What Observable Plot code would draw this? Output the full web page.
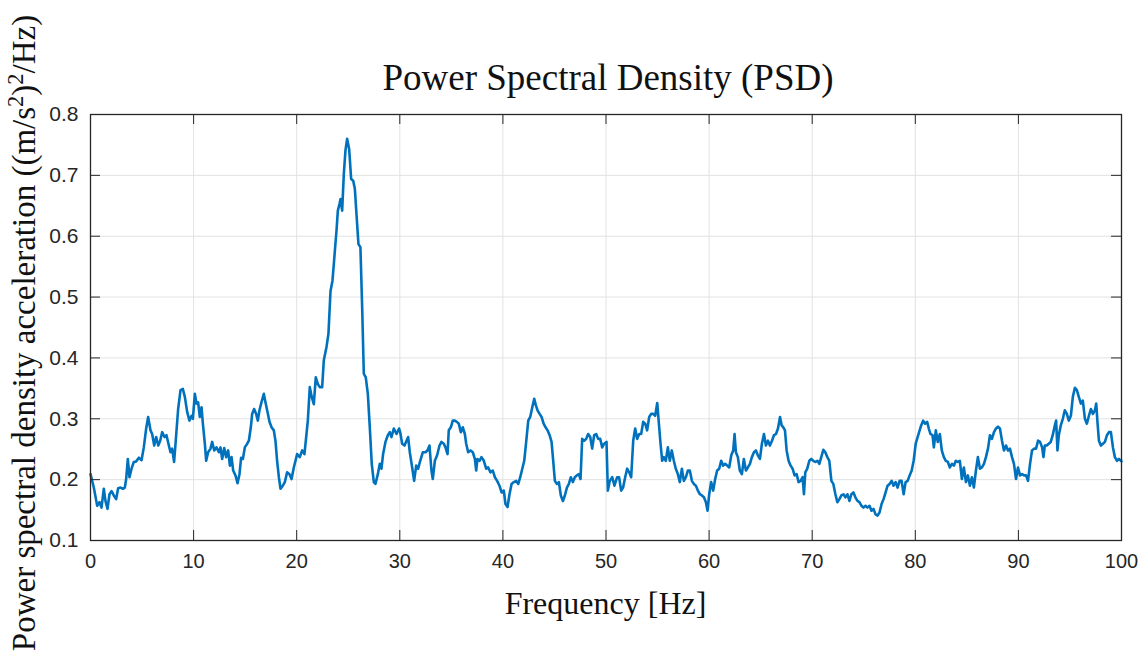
<!DOCTYPE html>
<html><head><meta charset="utf-8">
<script src="https://cdn.jsdelivr.net/npm/d3@7"></script>
<script src="https://cdn.jsdelivr.net/npm/@observablehq/plot@0.6"></script>
<style>
body{margin:0;background:#fff;}
#wrap{position:relative;width:1147px;height:664px;overflow:hidden;}
.lbl{position:absolute;font-family:"Liberation Serif","Times New Roman",serif;color:#111;text-align:center;white-space:nowrap;}
#title{left:90px;width:1036px;top:56px;font-size:37px;line-height:44px;}
#xlabel{left:90px;width:1031px;top:584px;font-size:32px;line-height:38px;}
#ylabel{left:-326px;width:700px;top:314px;font-size:33px;line-height:38px;transform:rotate(-90deg);transform-origin:50% 50%;}
sup{font-size:0.68em;line-height:0;vertical-align:0.55em;}
</style></head><body>
<div id="wrap">
<div id="chart"></div>
<div id="title" class="lbl">Power Spectral Density (PSD)</div>
<div id="xlabel" class="lbl">Frequency [Hz]</div>
<div id="ylabel" class="lbl">Power spectral density acceleration ((m/s<sup>2</sup>)<sup>2</sup>/Hz)</div>
</div>
<script>
const freq = [
0,0.32,0.65,0.87,1.07,1.29,1.45,1.65,1.84,2.04,2.26,2.49,2.68,2.91,3.14,3.33,3.46,3.62,3.78,3.98,
4.2,4.43,4.69,4.95,5.17,5.4,5.59,5.82,5.98,6.18,6.37,6.57,6.76,6.95,7.18,7.37,7.6,7.76,7.92,8.11,
8.31,8.5,8.73,8.96,9.15,9.38,9.6,9.8,9.93,10.12,10.28,10.44,10.6,10.77,10.9,11.09,11.22,11.41,11.64,11.8,
12.0,12.22,12.45,12.61,12.77,12.97,13.16,13.35,13.52,13.68,13.84,14.06,14.26,14.45,14.61,14.78,14.97,15.16,15.36,15.55,
15.68,15.87,16.07,16.23,16.39,16.58,16.81,16.97,17.17,17.36,17.56,17.78,17.94,18.1,18.27,18.43,18.65,18.85,19.07,19.3,
19.5,19.72,20.04,20.3,20.53,20.75,20.95,21.08,21.27,21.47,21.66,21.85,22.05,22.24,22.47,22.63,22.89,23.08,23.28,23.47,
23.6,23.73,23.86,23.99,24.15,24.25,24.41,24.57,24.73,24.89,25.09,25.28,25.48,25.64,25.8,25.99,26.18,26.35,26.51,26.7,
26.9,27.09,27.28,27.48,27.64,27.87,28.06,28.22,28.38,28.61,28.84,29.03,29.19,29.42,29.68,29.93,
30.04,30.23,30.46,30.65,30.81,30.97,31.2,31.39,31.59,31.78,31.98,32.23,32.49,32.68,32.88,33.07,33.2,33.4,33.62,33.85,
34.04,34.27,34.43,34.63,34.75,34.95,35.14,35.34,35.53,35.72,35.92,36.11,36.31,36.44,36.63,36.86,37.08,37.28,37.41,37.53,
37.73,37.92,38.15,38.38,38.57,38.8,39.02,39.22,39.44,39.67,39.87,40.09,40.25,40.45,40.64,40.84,41.06,41.29,41.49,41.68,
41.88,42.07,42.27,42.46,42.65,42.85,43.04,43.2,43.36,43.56,43.75,43.95,44.14,44.33,44.53,44.72,44.88,45.04,45.24,45.43,
45.62,45.82,46.01,46.21,46.4,46.59,46.79,46.98,47.17,47.37,47.53,47.69,47.88,48.08,48.27,48.47,48.66,48.85,49.05,49.24,
49.44,49.63,49.82,
50.05,50.18,50.37,50.6,50.82,51.08,51.27,51.47,51.66,51.86,52.05,52.25,52.44,52.64,52.83,53.02,53.22,53.41,53.61,53.8,
53.99,54.19,54.38,54.58,54.77,54.97,55.13,55.29,55.45,55.61,55.8,56.0,56.19,56.38,56.58,56.77,56.97,57.16,57.36,57.55,
57.75,57.94,58.13,58.33,58.52,58.72,58.91,59.11,59.3,59.5,59.69,59.85,60.01,60.2,60.4,60.59,60.78,60.98,61.17,61.37,
61.56,61.76,61.95,62.15,62.34,62.47,62.6,62.79,62.98,63.18,63.37,63.57,63.76,63.96,64.15,64.35,64.54,64.73,64.93,65.12,
65.32,65.51,65.71,65.9,66.1,66.29,66.49,66.68,66.88,67.04,67.2,67.36,67.52,67.71,67.91,68.1,68.29,68.49,68.68,68.88,
69.07,69.2,69.33,69.52,69.72,69.91,70.11,70.3,70.5,70.69,70.88,71.08,71.27,71.47,71.66,71.86,72.05,72.25,72.44,72.64,
72.83,73.03,73.22,73.42,73.61,73.8,74.0,74.19,74.39,74.58,74.78,74.97,75.17,75.36,75.56,75.75,75.95,76.14,76.34,76.53,
76.73,76.92,77.12,77.31,77.51,77.7,77.89,78.09,78.28,78.48,78.67,78.87,79.06,79.26,79.45,79.65,79.84,80.04,
80.37,80.57,80.76,80.96,81.15,81.31,81.47,81.67,81.8,81.99,82.18,82.38,82.57,82.77,82.96,83.16,83.35,83.55,83.74,83.93,
84.13,84.32,84.52,84.71,84.91,85.1,85.3,85.49,85.68,85.88,86.07,86.27,86.46,86.66,86.85,87.05,87.24,87.43,87.63,87.82,
88.02,88.21,88.41,88.6,88.8,88.99,89.18,89.38,89.57,89.77,89.96,90.16,90.35,90.55,90.74,90.93,91.13,91.32,91.52,91.71,
91.91,92.1,92.3,92.43,92.56,92.75,92.94,93.14,93.33,93.53,93.66,93.79,93.92,94.11,94.31,94.5,94.7,94.89,95.09,95.28,
95.48,95.67,95.86,96.06,96.25,96.45,96.64,96.84,97.03,97.23,97.42,97.55,97.68,97.81,98.0,98.2,98.39,98.59,98.78,98.97,
99.17,99.36,99.56,99.75,100
];
const psd = [
0.209,0.187,0.157,0.163,0.154,0.185,0.165,0.152,0.176,0.181,0.174,0.168,0.186,0.187,0.185,0.187,0.201,0.234,0.204,0.218,
0.229,0.230,0.236,0.232,0.253,0.284,0.303,0.281,0.275,0.256,0.270,0.256,0.264,0.278,0.270,0.273,0.256,0.245,0.251,0.229,
0.273,0.316,0.347,0.349,0.336,0.311,0.297,0.305,0.300,0.341,0.325,0.327,0.303,0.319,0.292,0.259,0.231,0.245,0.251,0.262,
0.248,0.253,0.245,0.253,0.234,0.252,0.237,0.248,0.223,0.237,0.215,0.207,0.194,0.209,0.236,0.234,0.253,0.258,0.264,0.286,
0.308,0.316,0.308,0.297,0.314,0.327,0.341,0.327,0.311,0.295,0.286,0.281,0.264,0.231,0.204,0.185,0.190,0.196,0.212,0.209,
0.201,0.220,0.242,0.237,0.248,0.242,0.275,0.297,0.352,0.335,0.324,0.368,0.357,0.352,0.352,0.396,0.418,0.440,0.510,0.527,
0.554,0.582,0.609,0.642,0.653,0.661,0.642,0.702,0.741,0.760,0.743,0.694,0.691,0.678,0.636,0.587,0.582,0.483,0.374,0.368,
0.341,0.286,0.226,0.196,0.193,0.209,0.226,0.218,0.242,0.262,0.273,0.278,0.270,0.284,0.275,0.284,
0.278,0.259,0.256,0.264,0.270,0.245,0.220,0.198,0.223,0.218,0.231,0.245,0.245,0.248,0.256,0.215,0.201,0.231,0.240,0.256,
0.262,0.259,0.253,0.242,0.281,0.286,0.297,0.297,0.295,0.292,0.278,0.286,0.275,0.259,0.245,0.248,0.245,0.234,0.215,0.234,
0.231,0.237,0.231,0.218,0.220,0.212,0.215,0.204,0.198,0.190,0.179,0.182,0.160,0.155,0.176,0.193,0.196,0.198,0.193,0.204,
0.218,0.231,0.264,0.297,0.303,0.319,0.333,0.322,0.314,0.308,0.303,0.292,0.286,0.281,0.273,0.262,0.231,0.198,0.193,0.196,
0.174,0.165,0.174,0.187,0.193,0.204,0.196,0.204,0.207,0.209,0.201,0.267,0.264,0.267,0.275,0.270,0.251,0.273,0.275,0.267,
0.267,0.253,0.259,
0.262,0.182,0.198,0.204,0.190,0.204,0.204,0.182,0.187,0.204,0.218,0.212,0.204,0.264,0.284,0.267,0.275,0.275,0.295,0.292,
0.281,0.303,0.308,0.308,0.305,0.326,0.292,0.259,0.231,0.237,0.231,0.253,0.231,0.248,0.231,0.218,0.209,0.196,0.218,0.198,
0.204,0.215,0.215,0.198,0.193,0.190,0.182,0.176,0.174,0.171,0.163,0.149,0.176,0.196,0.182,0.201,0.215,0.218,0.231,0.223,
0.226,0.223,0.220,0.240,0.248,0.275,0.245,0.237,0.215,0.209,0.234,0.215,0.220,0.226,0.237,0.245,0.248,0.240,0.234,0.259,
0.275,0.256,0.264,0.256,0.264,0.273,0.275,0.284,0.303,0.289,0.286,0.281,0.248,0.231,0.223,0.218,0.207,0.209,0.196,0.198,
0.204,0.176,0.212,0.218,0.231,0.234,0.231,0.229,0.231,0.226,0.237,0.249,0.245,0.237,0.231,0.198,0.193,0.176,0.163,0.168,
0.174,0.176,0.171,0.176,0.165,0.176,0.179,0.171,0.165,0.163,0.157,0.154,0.157,0.154,0.157,0.149,0.152,0.143,0.141,0.146,
0.160,0.168,0.179,0.190,0.193,0.198,0.190,0.196,0.187,0.198,0.198,0.176,0.196,0.198,0.207,0.215,0.231,0.259,
0.278,0.289,0.297,0.292,0.295,0.284,0.275,0.273,0.253,0.281,0.262,0.275,0.248,0.237,0.231,0.229,0.220,0.226,0.223,0.231,
0.229,0.231,0.201,0.220,0.196,0.207,0.190,0.204,0.187,0.215,0.237,0.218,0.220,0.226,0.237,0.251,0.273,0.267,0.278,0.284,
0.287,0.284,0.264,0.248,0.256,0.248,0.251,0.237,0.226,0.201,0.220,0.207,0.209,0.207,0.207,0.198,0.226,0.248,0.251,0.251,
0.264,0.262,0.253,0.237,0.256,0.256,0.259,0.262,0.273,0.289,0.297,0.248,0.273,0.289,0.300,0.314,0.308,0.297,0.305,0.336,
0.351,0.347,0.336,0.325,0.330,0.300,0.292,0.305,0.316,0.308,0.314,0.325,0.292,0.264,0.256,0.259,0.262,0.273,0.278,0.278,
0.253,0.237,0.231,0.234,0.230
];
const xTicks = [0,10,20,30,40,50,60,70,80,90,100];
const yTicks = [0.1,0.2,0.3,0.4,0.5,0.6,0.7,0.8];

const data = freq.map((f, i) => ({f, p: psd[i]}));
const W = 1147, H = 664, mL = 90, mR = 26, mT = 114, mB = 124;
const innerW = W - mL - mR, innerH = H - mT - mB;
const axisColor = "#262626";

const chart = Plot.plot({
  width: W, height: H,
  marginLeft: mL, marginRight: mR, marginTop: mT, marginBottom: mB,
  style: {fontFamily: "'Liberation Sans', Arial, sans-serif", fontSize: "19px", color: axisColor, background: "#fff"},
  x: {domain: [0, 100], label: null},
  y: {domain: [0.1, 0.8], label: null},
  marks: [
    Plot.gridX(xTicks, {stroke: "#e2e2e2", strokeOpacity: 1, strokeWidth: 1}),
    Plot.gridY(yTicks, {stroke: "#e2e2e2", strokeOpacity: 1, strokeWidth: 1}),
    Plot.line(data, {x: "f", y: "p", stroke: "#0072BD", strokeWidth: 2.6, strokeLinejoin: "round"}),
    Plot.tickX(xTicks, {x: d => d, insetTop: innerH - 10, stroke: axisColor}),
    Plot.tickX(xTicks, {x: d => d, insetBottom: innerH - 10, stroke: axisColor}),
    Plot.tickY(yTicks, {y: d => d, insetRight: innerW - 10, stroke: axisColor}),
    Plot.tickY(yTicks, {y: d => d, insetLeft: innerW - 10, stroke: axisColor}),
    Plot.frame({stroke: axisColor, strokeWidth: 1.3}),
    Plot.axisX(xTicks, {tickSize: 0, tickPadding: 13, label: null, fontSize: 20}),
    Plot.axisY(yTicks, {tickSize: 0, tickPadding: 12, label: null, fontSize: 21, tickFormat: d => d.toFixed(1)})
  ]
});
document.getElementById("chart").appendChild(chart);
</script>
</body></html>
